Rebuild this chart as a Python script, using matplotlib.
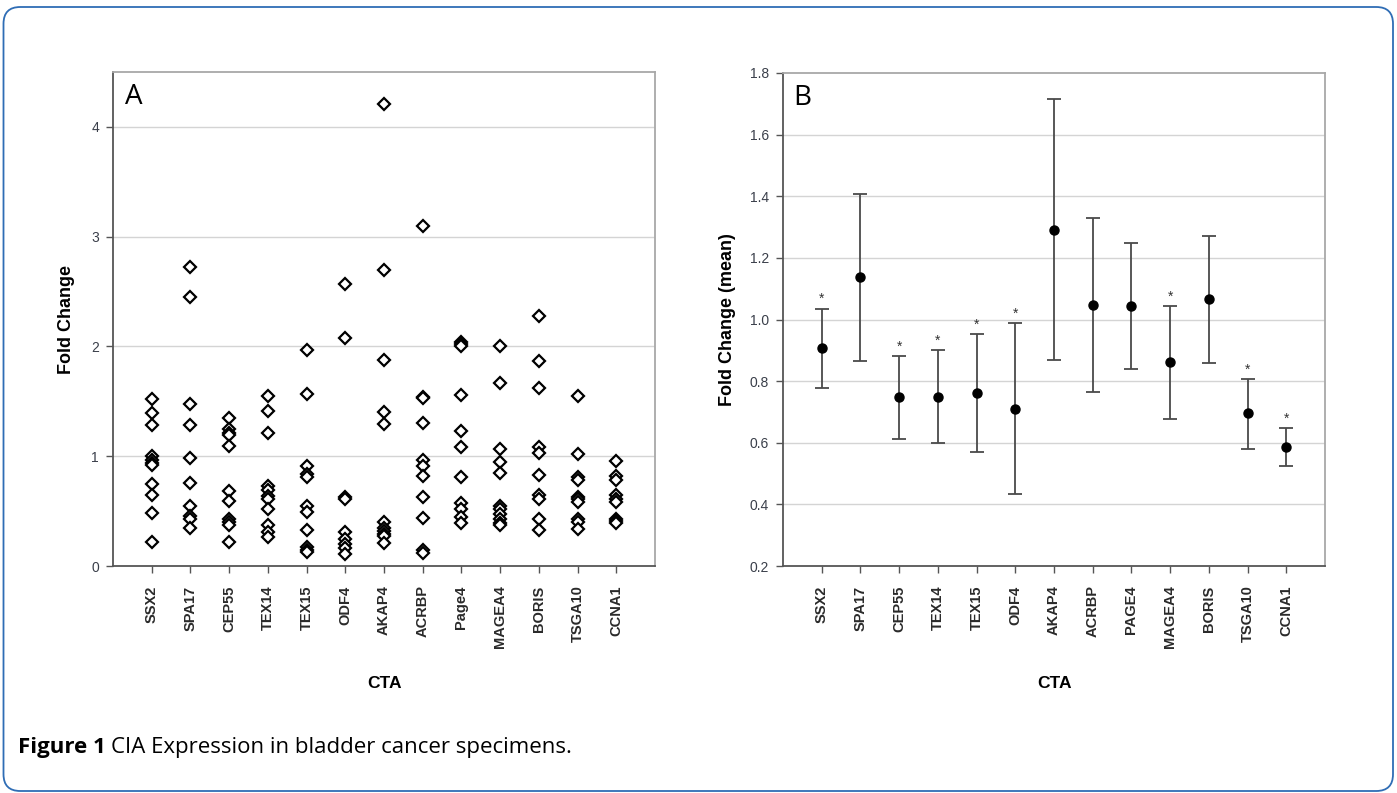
import matplotlib
matplotlib.use("Agg")
import matplotlib.pyplot as plt
from matplotlib.patches import FancyBboxPatch

# ---------------- data ----------------
genes_a = ["SSX2", "SPA17", "CEP55", "TEX14", "TEX15", "ODF4", "AKAP4",
           "ACRBP", "Page4", "MAGEA4", "BORIS", "TSGA10", "CCNA1"]
genes_b = ["SSX2", "SPA17", "CEP55", "TEX14", "TEX15", "ODF4", "AKAP4",
           "ACRBP", "PAGE4", "MAGEA4", "BORIS", "TSGA10", "CCNA1"]

fold_ssx2 = [1.52, 1.39, 1.28, 1.00, 0.97, 0.94, 0.92, 0.75, 0.65, 0.48, 0.22]
fold_spa17 = [2.72, 2.45, 1.48, 1.28, 0.98, 0.76, 0.55, 0.46, 0.43, 0.35]
fold_cep55 = [1.35, 1.25, 1.21, 1.19, 1.09, 0.68, 0.59, 0.43, 0.40, 0.37, 0.22]
fold_tex14 = [1.55, 1.41, 1.21, 0.73, 0.69, 0.64, 0.61, 0.52, 0.37, 0.31, 0.26]
fold_tex15 = [1.97, 1.57, 0.91, 0.84, 0.81, 0.55, 0.49, 0.33, 0.17, 0.15, 0.13]
fold_odf4 = [2.57, 2.08, 0.63, 0.61, 0.31, 0.25, 0.20, 0.16, 0.11]
fold_akap4 = [4.21, 2.70, 1.88, 1.40, 1.29, 0.40, 0.35, 0.32, 0.29, 0.27, 0.21]
fold_acrbp = [3.10, 1.54, 1.53, 1.30, 0.97, 0.91, 0.82, 0.63, 0.44, 0.15, 0.12]
fold_page4 = [2.04, 2.02, 2.00, 1.56, 1.23, 1.08, 0.81, 0.57, 0.52, 0.45, 0.39]
fold_magea4 = [2.00, 1.67, 1.07, 0.95, 0.85, 0.55, 0.52, 0.47, 0.43, 0.39, 0.37]
fold_boris = [2.28, 1.87, 1.62, 1.08, 1.03, 0.83, 0.65, 0.61, 0.43, 0.33]
fold_tsga10 = [1.55, 1.02, 0.81, 0.78, 0.63, 0.61, 0.58, 0.43, 0.40, 0.34]
fold_ccna1 = [0.96, 0.82, 0.78, 0.65, 0.61, 0.58, 0.43, 0.41, 0.39]
fold_all = [fold_ssx2, fold_spa17, fold_cep55, fold_tex14, fold_tex15, fold_odf4,
            fold_akap4, fold_acrbp, fold_page4, fold_magea4, fold_boris,
            fold_tsga10, fold_ccna1]

mean_fc = [0.909, 1.138, 0.747, 0.750, 0.763, 0.711, 1.292, 1.047, 1.044,
           0.861, 1.066, 0.697, 0.585]
upper_fc = [1.035, 1.407, 0.882, 0.900, 0.952, 0.989, 1.716, 1.330, 1.247,
            1.043, 1.272, 0.807, 0.647]
lower_fc = [0.777, 0.866, 0.611, 0.600, 0.569, 0.434, 0.869, 0.766, 0.840,
            0.678, 0.859, 0.579, 0.523]
significant = [True, False, True, True, True, True, False, False, False,
               True, False, True, True]

yticks_a = [0, 1, 2, 3, 4]
yticks_b = [0.2, 0.4, 0.6, 0.8, 1.0, 1.2, 1.4, 1.6, 1.8]

# ---------------- figure ----------------
W, H = 1397, 793
fig = plt.figure(figsize=(W / 100, H / 100), dpi=100)
fig.patch.set_facecolor("white")

frame = FancyBboxPatch((3.5 / W, 2 / H), (1389.5) / W, (784) / H,
                       boxstyle="round,pad=0,rounding_size=0.012",
                       transform=fig.transFigure, facecolor="none",
                       edgecolor="#2f6db5", linewidth=1.3, mutation_aspect=W / H)
fig.patches.append(frame)

grid_c = "#d4d4d4"
spine_dark = "#555555"
spine_light = "#a8a8a8"
lbl_font = ["Liberation Sans", "DejaVu Sans"]


def style_axes(ax):
    ax.set_facecolor("white")
    ax.spines["left"].set_color(spine_dark)
    ax.spines["bottom"].set_color(spine_dark)
    ax.spines["top"].set_color(spine_light)
    ax.spines["right"].set_color(spine_light)
    for s in ax.spines.values():
        s.set_linewidth(1.3)
    ax.tick_params(axis="both", direction="out", length=5, width=1,
                   color=spine_dark)
    ax.tick_params(axis="y", labelsize=10, labelcolor="#3a3f4a", pad=5)
    ax.tick_params(axis="x", labelsize=10.5, labelcolor="#2a2a2a", pad=9)
    ax.set_axisbelow(True)


# ---------------- panel A ----------------
axA = fig.add_axes([113 / W, 1 - 566 / H, 542 / W, 494 / H])
style_axes(axA)
xpos = list(range(1, len(genes_a) + 1))
for i, vals in enumerate(fold_all):
    axA.plot([xpos[i]] * len(vals), vals, linestyle="none", marker="D",
             markersize=6.0, markerfacecolor="white", markeredgecolor="black",
             markeredgewidth=1.6)
axA.set_xlim(0, 14)
axA.set_ylim(0, 4.5)
axA.set_yticks(yticks_a)
axA.set_yticklabels([str(v) for v in yticks_a], family=lbl_font)
axA.set_xticks(xpos)
axA.set_xticklabels(genes_a, rotation=90, family=lbl_font, fontweight="bold")
for v in yticks_a[1:]:
    axA.axhline(v, color=grid_c, linewidth=1, zorder=0)
axA.set_ylabel("Fold Change", family=lbl_font, fontweight="bold", fontsize=13,
               labelpad=12)
axA.set_xlabel("CTA", family=lbl_font, fontweight="bold", fontsize=12.5,
               labelpad=20)
axA.text(0.022, 0.978, "A", transform=axA.transAxes, fontsize=20,
         family=["Open Sans", "DejaVu Sans"], va="top", ha="left")

# ---------------- panel B ----------------
axB = fig.add_axes([783 / W, 1 - 566 / H, 542 / W, 493 / H])
style_axes(axB)
yerr = [[m - lo for m, lo in zip(mean_fc, lower_fc)],
        [up - m for m, up in zip(mean_fc, upper_fc)]]
axB.errorbar(xpos, mean_fc, yerr=yerr, fmt="o", color="black", markersize=6.5,
             ecolor="#4a4a4a", elinewidth=1.3, capsize=5, capthick=1.3)
for i, sig in enumerate(significant):
    if sig:
        axB.text(xpos[i], upper_fc[i] + 0.008, "*", ha="center", va="bottom",
                 fontsize=10, color="#333333", family=lbl_font)
axB.set_xlim(0, 14)
axB.set_ylim(0.2, 1.8)
axB.set_yticks(yticks_b)
axB.set_yticklabels([f"{v:.1f}" for v in yticks_b], family=lbl_font)
axB.set_xticks(xpos)
axB.set_xticklabels(genes_b, rotation=90, family=lbl_font, fontweight="bold")
for v in yticks_b[1:-1]:
    axB.axhline(v, color=grid_c, linewidth=1, zorder=0)
axB.set_ylabel("Fold Change (mean)", family=lbl_font, fontweight="bold",
               fontsize=13, labelpad=10)
axB.set_xlabel("CTA", family=lbl_font, fontweight="bold", fontsize=12.5,
               labelpad=20)
axB.text(0.018, 0.978, "B", transform=axB.transAxes, fontsize=20,
         family=["Open Sans", "DejaVu Sans"], va="top", ha="left")

# ---------------- caption ----------------
cap_y = 1 - 747 / H
t1 = fig.text(18 / W, cap_y, "Figure 1", fontsize=16, fontweight="bold",
              family=["Open Sans", "DejaVu Sans"], va="center", ha="left")
fig.canvas.draw()
bb = t1.get_window_extent()
fig.text((bb.x1 + 5) / W, cap_y, "CIA Expression in bladder cancer specimens.",
         fontsize=16, family=["Open Sans", "DejaVu Sans"], va="center",
         ha="left")

fig.savefig("out.png", dpi=100, facecolor="white")
